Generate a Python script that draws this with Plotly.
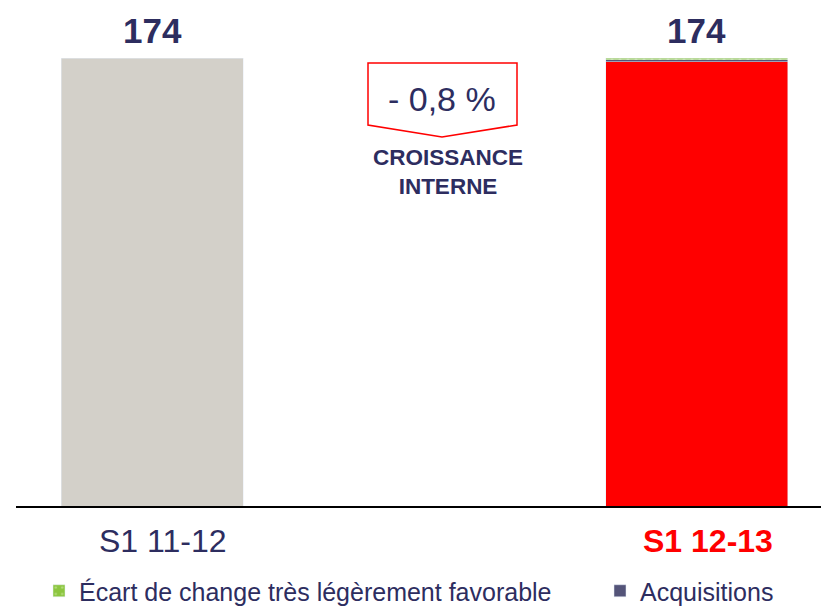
import plotly.graph_objects as go

# ---- data ----
categories = ["S1 11-12", " ", "S1 12-13"]
prev_value = [174.0]            # S1 11-12 revenue
organic_value = [172.6]         # S1 12-13 internal growth part
acquisitions_value = [0.7]      # S1 12-13 acquisitions
fx_value = [0.7]                # S1 12-13 FX effect
growth_label = "- 0,8 %"
growth_caption = "CROISSANCE<br>INTERNE"
legend_fx = "Écart de change très légèrement favorable"
legend_acq = "Acquisitions"

NAVY = "#2D2D5F"
RED = "#FF0000"
GRAY = "#D3D0C9"
PURPLE = "#545479"
GREEN = "#8CC63F"
FONT = "Liberation Sans, Arial, sans-serif"

total_prev = sum(prev_value)
total_curr = organic_value[0] + acquisitions_value[0] + fx_value[0]

fig = go.Figure()
fig.add_trace(go.Bar(x=[categories[0]], y=prev_value, marker_color=GRAY,
                     showlegend=False, hoverinfo="skip"))
fig.add_trace(go.Bar(x=[categories[2]], y=organic_value, marker_color=RED,
                     showlegend=False, hoverinfo="skip"))
fig.add_trace(go.Bar(x=[categories[2]], y=acquisitions_value, marker_color=PURPLE,
                     name=legend_acq, legend="legend2"))
fig.add_trace(go.Bar(x=[categories[2]], y=fx_value, name=legend_fx, legend="legend",
                     marker=dict(color=GREEN,
                                 pattern=dict(shape=".", fgcolor="#d8efb8",
                                              size=8, solidity=0.12))))

# totals above bars
for cat, tot in [(categories[0], total_prev), (categories[2], total_curr)]:
    fig.add_annotation(x=cat, y=tot, text=f"<b>{tot:.0f}</b>", showarrow=False,
                       yanchor="middle", yshift=28,
                       font=dict(family=FONT, size=35, color=NAVY))

# category labels under the axis (slightly right of bar centre, as in the original)
cat_styles = {categories[0]: (categories[0], NAVY),
              categories[2]: (f"<b>{categories[2]}</b>", RED)}
for cat, (txt, col) in cat_styles.items():
    fig.add_annotation(x=cat, y=0, yref="y", text=txt, showarrow=False,
                       yanchor="middle", yshift=-35, xshift=11,
                       font=dict(family=FONT, size=32, color=col))

# callout shape
def px(x):
    return (x - 16) / 805

def py(y):
    return (506 - y) / 506

path = (f"M{px(368)},{py(63)} L{px(517)},{py(63)} L{px(517)},{py(125)} "
        f"L{px(442)},{py(137)} L{px(368)},{py(125)} Z")
fig.add_shape(type="path", path=path, xref="paper", yref="paper",
              line=dict(color=RED, width=1.5), fillcolor="white")
fig.add_annotation(x=px(442), y=py(99), xref="paper", yref="paper",
                   text=growth_label, showarrow=False, yanchor="middle",
                   font=dict(family=FONT, size=34, color=NAVY))
fig.add_annotation(x=px(448), y=py(172), xref="paper", yref="paper",
                   text=f"<b>{growth_caption}</b>", showarrow=False, yanchor="middle",
                   font=dict(family=FONT, size=22.5, color=NAVY))

legend_common = dict(orientation="h", y=-0.168, yanchor="middle",
                     font=dict(family=FONT, size=25, color=NAVY),
                     bgcolor="rgba(0,0,0,0)", borderwidth=0)

fig.update_layout(
    width=821, height=606,
    margin=dict(l=16, r=0, t=0, b=100, autoexpand=False),
    paper_bgcolor="white", plot_bgcolor="white",
    barmode="stack", bargap=0.332,
    font=dict(family=FONT, color=NAVY),
    xaxis=dict(type="category", categoryorder="array", categoryarray=categories,
               range=[-0.5, 2.456], showline=True, linecolor="black", linewidth=1.5,
               ticks="", showgrid=False, zeroline=False, automargin=False,
               showticklabels=False),
    yaxis=dict(range=[0, 174 * 506 / 448], visible=False, showgrid=False,
               automargin=False),
    legend=dict(x=px(39), xanchor="left", **legend_common),
    legend2=dict(x=px(600), xanchor="left", **legend_common),
)

fig.write_html("out.html", config={"displayModeBar": False},
               post_script="document.body.style.margin='0';document.body.style.overflow='hidden';")
